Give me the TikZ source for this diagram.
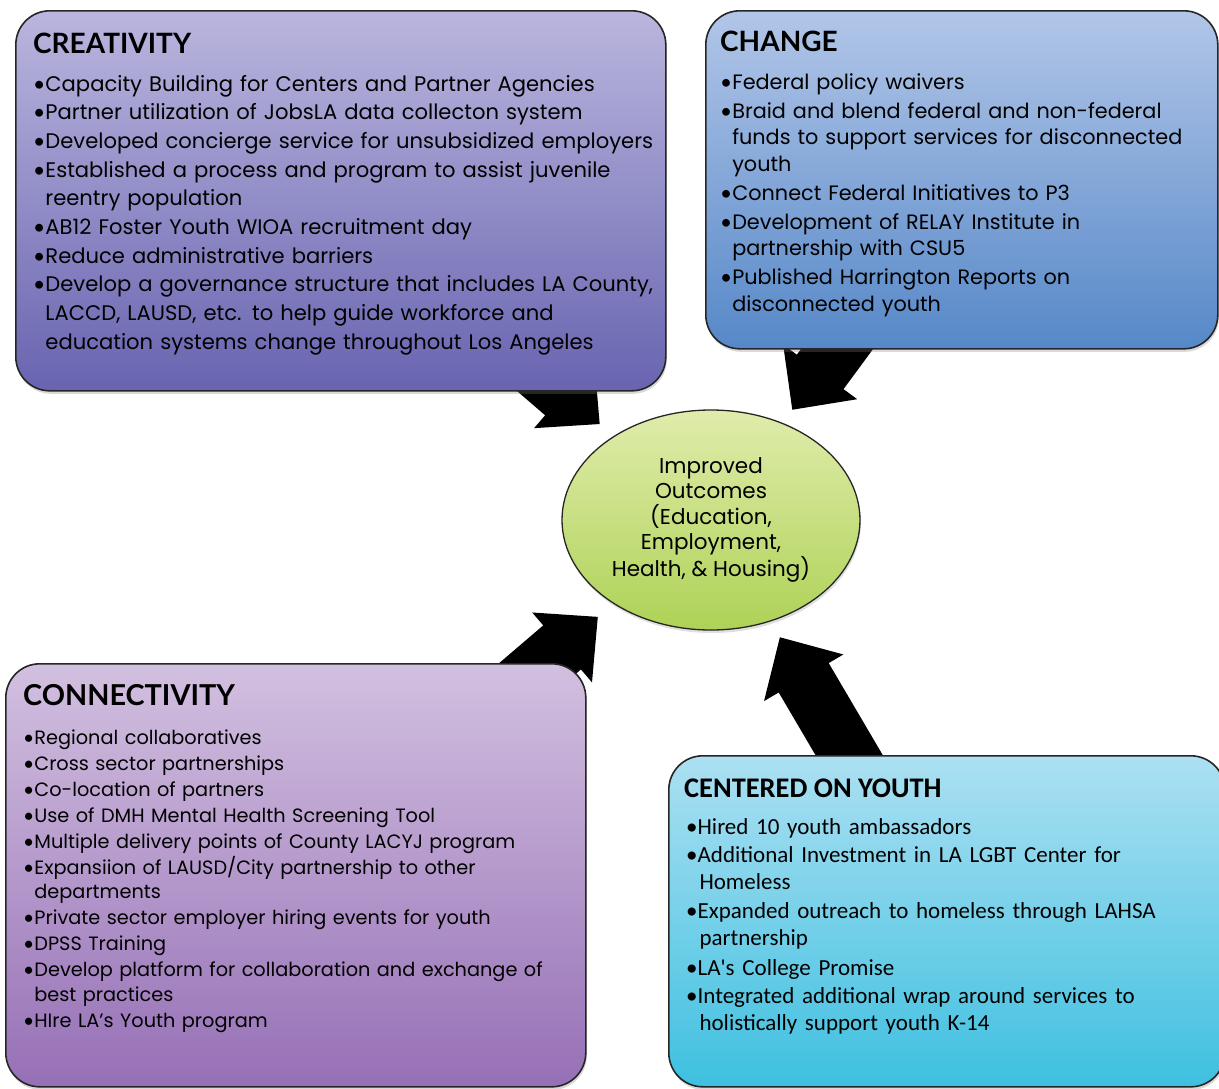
\documentclass[tikz,border=0pt]{standalone}
\usepackage{fontspec}
\setmainfont{Poppins}
\newfontfamily\headfont{Lato}
\newfontfamily\calib{Carlito}
\usetikzlibrary{calc,shadows,shapes.geometric}
\pgfdeclarelayer{bg}
\pgfsetlayers{bg,main}

\definecolor{crTop}{RGB}{186,182,222}
\definecolor{crBot}{RGB}{104,100,176}
\definecolor{chTop}{RGB}{178,198,232}
\definecolor{chBot}{RGB}{86,136,200}
\definecolor{coTop}{RGB}{210,192,224}
\definecolor{coBot}{RGB}{150,112,182}
\definecolor{yoTop}{RGB}{172,224,242}
\definecolor{yoBot}{RGB}{62,192,224}
\definecolor{elTop}{RGB}{224,236,172}
\definecolor{elBot}{RGB}{174,210,86}

\newcommand\bul{{\headfont\textbullet}}
\newcommand\cnt{\hphantom{\bul}}
\newcommand\blkarrow[4]{%
  \coordinate (#1-T) at ($(out.center)!#2pt!(#1.center)$);
  \coordinate (#1-H) at ($(out.center)!#3pt!(#1.center)$);
  \coordinate (#1-E) at ($(out.center)!#4pt!(#1.center)$);
  \fill[black] (#1-T)
    -- ($(#1-H)!46pt!90:(#1.center)$)
    -- ($(#1-H)!29pt!90:(#1.center)$)
    -- ($(#1-E)!29pt!90:(#1.center)$)
    -- ($(#1-E)!29pt!-90:(#1.center)$)
    -- ($(#1-H)!29pt!-90:(#1.center)$)
    -- ($(#1-H)!46pt!-90:(#1.center)$)
    -- cycle;}

\begin{document}
\begin{tikzpicture}[x=1pt,y=-1pt,
  box/.style={draw=black!85, line width=1.6pt, rounded corners=34pt, anchor=north west,
    inner sep=0pt, drop shadow={opacity=0.3, shadow xshift=1pt, shadow yshift=-3pt}},
  head/.style={anchor=base west, inner sep=0pt, font=\headfont\bfseries\fontsize{28}{30}\selectfont},
  body/.style={anchor=base west, inner sep=0pt, align=left, text width=640pt}
]
\useasboundingbox (0,0) rectangle (1219,1088);

% boxes
\node[box, minimum width=650pt, minimum height=380pt, top color=crTop, bottom color=crBot] (creat) at (15,10) {};
\node[box, minimum width=512pt, minimum height=338pt, top color=chTop, bottom color=chBot] (change) at (705,10) {};
\node[box, minimum width=580pt, minimum height=423pt, top color=coTop, bottom color=coBot] (conn) at (5,663) {};
\node[box, minimum width=556pt, minimum height=331pt, top color=yoTop, bottom color=yoBot] (youth) at (668,755) {};

% centre ellipse
\node[draw=black!85, line width=1.3pt, ellipse, minimum width=298pt, minimum height=220pt,
  top color=elTop, bottom color=elBot, align=center, inner sep=0pt,
  drop shadow={opacity=0.25, shadow xshift=1pt, shadow yshift=-3pt},
  font=\fontsize{21.5}{25.5}\selectfont] (out) at (711,520)
  {Improved\\Outcomes\\(Education,\\Employment,\\Health, \& Housing)};

% block arrows behind
\begin{pgfonlayer}{bg}
\blkarrow{creat}{147}{194}{300}
\blkarrow{change}{137}{184}{250}
\blkarrow{conn}{149}{196}{300}
\blkarrow{youth}{136}{183}{300}
\end{pgfonlayer}

% CREATIVITY
\node[head] (creatH) at (33,53) {CREATIVITY};
\node[body, font=\fontsize{21.1}{28.7}\selectfont] (creatB) at (33,91) {%
\bul Capacity Building for Centers and Partner Agencies\\
\bul Partner utilization of  JobsLA data collecton system\\
\bul Developed concierge service for unsubsidized employers\\
\bul Established a process and program to assist juvenile\\
\cnt reentry population\\
\bul AB12 Foster Youth WIOA recruitment day\\
\bul Reduce administrative barriers\\
\bul Develop a governance structure that includes LA County,\\
\cnt LACCD, LAUSD, etc. to help guide workforce and\\
\cnt education systems change throughout Los Angeles};

% CHANGE
\node[head] (changeH) at (720,51) {CHANGE};
\node[body, font=\fontsize{20.8}{26.5}\selectfont] (changeB) at (720,89) {%
\bul Federal policy waivers\\[2.5pt]
\bul Braid and blend federal and non-federal\\
\cnt funds to support services for disconnected\\
\cnt youth\\[2.5pt]
\bul Connect Federal Initiatives to P3\\[2.5pt]
\bul Development of RELAY Institute in\\
\cnt partnership with CSU5\\[2.5pt]
\bul Published Harrington Reports on\\
\cnt disconnected youth};

% CONNECTIVITY
\node[head, font=\headfont\bfseries\fontsize{28.8}{30}\selectfont] (connH) at (23,705) {CONNECTIVITY};
\node[body, font=\fontsize{19.3}{24.5}\selectfont] (connB) at (23,744) {%
\bul Regional collaboratives\\[1.5pt]
\bul Cross sector partnerships\\[1.5pt]
\bul Co-location of partners\\[1.5pt]
\bul Use of DMH Mental Health Screening Tool\\[1.5pt]
\bul Multiple delivery points of County LACYJ program\\[1.5pt]
\bul Expansiion of LAUSD/City partnership to other\\
\cnt departments\\[1.5pt]
\bul Private sector employer hiring events for youth\\[1.5pt]
\bul DPSS Training\\[1.5pt]
\bul Develop platform for collaboration and exchange of\\
\cnt best practices\\[1.5pt]
\bul HIre LA's Youth program};

% CENTERED ON YOUTH
\node[head, font=\calib\bfseries\fontsize{28.4}{30}\selectfont] (youthH) at (684,797) {CENTERED ON YOUTH};
\node[body, font=\calib\fontsize{23}{27}\selectfont] (youthB) at (686,834) {%
\textbullet Hired 10 youth ambassadors\\[1.5pt]
\textbullet Additional Investment in LA LGBT Center for\\
\cnt Homeless\\[1.5pt]
\textbullet Expanded outreach to homeless through LAHSA\\
\cnt partnership\\[3pt]
\textbullet LA's College Promise\\[1.5pt]
\textbullet Integrated additional wrap around services to\\
\cnt holistically support youth K-14};
\end{tikzpicture}
\end{document}
